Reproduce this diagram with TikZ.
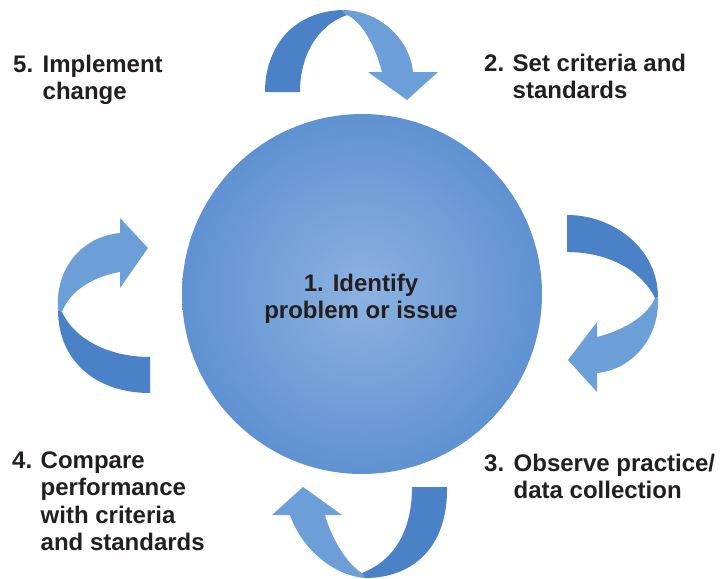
\documentclass[tikz,border=0pt]{standalone}
\usepackage{fontspec}
\setmainfont{Liberation Sans}
\definecolor{txt}{HTML}{231F20}
\definecolor{ballin}{HTML}{8CB2E0}
\definecolor{ballmid}{HTML}{5A8ED0}
\definecolor{ballout}{HTML}{3C79C0}
\definecolor{arrdark}{HTML}{4A81C7}
\definecolor{arrlight}{HTML}{6C9FD8}
\pgfdeclareradialshading{ballshade}{\pgfpoint{0bp}{0bp}}{color(0bp)=(ballin); color(28bp)=(ballmid); color(50bp)=(ballout)}
\begin{document}
\begin{tikzpicture}[x=1pt,y=-1pt,
  lbl/.style={anchor=base west, inner sep=0pt, text=txt, font=\fontsize{24}{27.6}\selectfont\bfseries},
  ctr/.style={anchor=base, inner sep=0pt, text=txt, font=\fontsize{24}{27.6}\selectfont\bfseries},
  darkpart/.style={fill=arrdark},
  lightpart/.style={fill=arrlight}]
\useasboundingbox[fill=white] (0,0) rectangle (724,579);

% central ball
\node[circle, minimum size=360pt, inner sep=0pt, shading=ballshade] (ball) at (362,294) {};
\node[ctr] (c1) at (361,291) {\begin{tabular}[t]{@{}c@{}}1. Identify\\problem or issue\end{tabular}};

% top arrow
\fill[darkpart] (265,92) -- (300,92) .. controls (300,55) and (318,25) .. (347,15)
  -- (342,10) .. controls (290,12) and (265,50) .. (265,92) -- cycle;
\fill[lightpart] (342,10) .. controls (380,10) and (410,40) .. (413,72)
  -- (438,72) -- (407,100) -- (368,72) -- (382,72)
  .. controls (375,45) and (362,22) .. (347,15) -- cycle;

% right arrow
\fill[darkpart] (567,215) .. controls (615,215) and (658,250) .. (658,297)
  -- (655,298) .. controls (640,268) and (605,252) .. (567,252) -- cycle;
\fill[lightpart] (658,297) .. controls (660,340) and (630,370) .. (597,373)
  -- (597,392) -- (568,360) -- (597,322) -- (597,337)
  .. controls (625,330) and (648,315) .. (655,298) -- cycle;

% bottom arrow
\fill[darkpart] (447,487) .. controls (448,545) and (415,578) .. (365,578)
  -- (362,573) .. controls (395,560) and (412,530) .. (412,487) -- cycle;
\fill[lightpart] (365,578) .. controls (330,575) and (300,545) .. (290,515)
  -- (272,515) -- (303,487) -- (342,515) -- (325,515)
  .. controls (332,540) and (348,565) .. (362,573) -- cycle;

% left arrow
\fill[darkpart] (150,393) .. controls (95,393) and (58,360) .. (58,310)
  -- (62,312) .. controls (75,340) and (110,357) .. (150,357) -- cycle;
\fill[lightpart] (58,310) .. controls (55,270) and (80,237) .. (120,233)
  -- (120,218) -- (148,248) -- (120,288) -- (120,272)
  .. controls (95,276) and (70,290) .. (62,312) -- cycle;

% labels
\node[lbl] (s5) at (13,72) {\begin{tabular}[t]{@{}l@{\hspace{9.5pt}}l@{}}5.&Implement\\&change\end{tabular}};
\node[lbl] (s2) at (484,71) {\begin{tabular}[t]{@{}l@{\hspace{8.5pt}}l@{}}2.&Set criteria and\\&standards\end{tabular}};
\node[lbl] (s3) at (484,471) {\begin{tabular}[t]{@{}l@{\hspace{9.5pt}}l@{}}3.&Observe practice/\\&data collection\end{tabular}};
\node[lbl] (s4) at (12,468) {\begin{tabular}[t]{@{}l@{\hspace{8.5pt}}l@{}}4.&Compare\\&performance\\&with criteria\\&and standards\end{tabular}};
\end{tikzpicture}
\end{document}
